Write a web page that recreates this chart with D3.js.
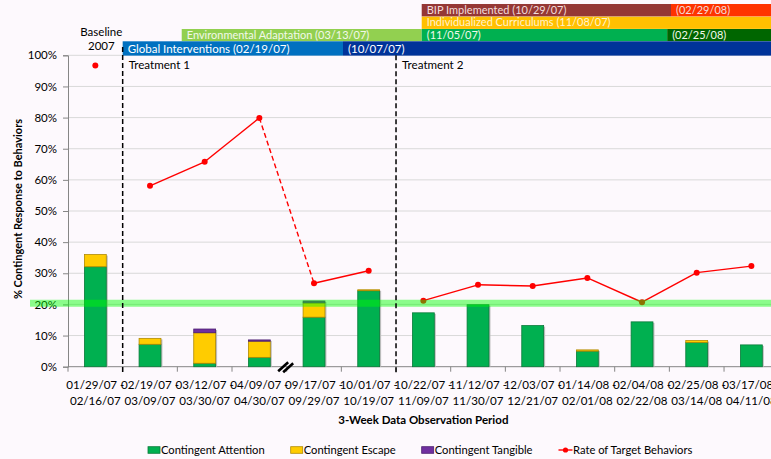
<!DOCTYPE html>
<html lang="en">
<head>
<meta charset="UTF-8">
<title>Contingent Response to Behaviors</title>
<script src="https://d3js.org/d3.v7.min.js"></script>
<style>
  body { margin: 0; background: #fdf9fd; }
  svg { display: block; font-family: Lato, "Liberation Sans", Arial, sans-serif; }
</style>
</head>
<body>
<div id="chart"></div>
<script>
// 3-week observation periods
const periodStart = ["01/29/07", "02/19/07", "03/12/07", "04/09/07", "09/17/07", "10/01/07", "10/22/07",
                     "11/12/07", "12/03/07", "01/14/08", "02/04/08", "02/25/08", "03/17/08"];
const periodEnd   = ["02/16/07", "03/09/07", "03/30/07", "04/30/07", "09/29/07", "10/19/07", "11/09/07",
                     "11/30/07", "12/21/07", "02/01/08", "02/22/08", "03/14/08", "04/11/08"];

// % contingent response, stacked
const attention = [32.1, 7.2, 1.1, 3.0, 15.9, 24.4, 17.3, 19.9, 13.2, 5.0, 14.4, 7.8, 7.0];
const escape    = [3.9, 1.9, 9.8, 5.2, 4.6, 0.3, 0, 0, 0, 0.4, 0, 0.6, 0];
const tangible  = [0, 0, 1.2, 0.4, 0.6, 0, 0, 0, 0, 0, 0, 0, 0];

// rate of target behaviors
const rate = [96.7, 58.1, 65.8, 79.9, 26.8, 30.8, 21.2, 26.3, 25.9, 28.5, 20.7, 30.2, 32.3];
// how each point joins the one before it
const rateLink = ["none", "none", "solid", "solid", "dashed", "solid", "none", "solid", "solid", "solid", "solid", "solid", "solid"];

const yTicks = [0, 10, 20, 30, 40, 50, 60, 70, 80, 90, 100];
const criterion = 20.4;

// phase lines drawn after these period indexes
const phaseLabels = ["Treatment 1", "Treatment 2"];
const phaseAfter = [0, 5];

// intervention banners, start given in period units
const bannerLabels = [
  ["BIP Implemented (10/29/07)", "(02/29/08)"],
  ["Individualized Curriculums (11/08/07)"],
  ["Environmental Adaptation (03/13/07)", "(11/05/07)", "(02/25/08)"],
  ["Global Interventions (02/19/07)", "(10/07/07)"]
];
const bannerStarts = [
  [6.47, 11.03],
  [6.47],
  [2.08, 6.47, 10.96],
  [1.0, 5.03]
];

const seriesNames = ["Contingent Attention", "Contingent Escape", "Contingent Tangible", "Rate of Target Behaviors"];

// ---- styles / layout ----
const bannerFill = [["#953735", "#ff3300"], ["#ffc000"], ["#92d050", "#00b050", "#006600"], ["#0070c0", "#003399"]];
const bannerText = ["#f2dcdb", "#fff2cc", "#f2f8ea", "#ffffff"];
const bannerTop = [4, 16.7, 29, 41.3];
const bannerH = [12.5, 12.2, 12.2, 14.3];
const barFill = ["#00b050", "#ffcc00", "#7030a0"];
const barStroke = ["#0a7a3a", "#b08a00", "#4b1f70"];

const W = 771, H = 459;
const plotLeft = 68, plotTop = 55.3, plotBottom = 366.7, step = 54.67;
const plotRight = plotLeft + step * periodStart.length;

const svg = d3.select("#chart").append("svg")
  .attr("width", W).attr("height", H);

svg.append("rect").attr("width", W).attr("height", H).attr("fill", "#fdf9fd");

const x = d3.scaleBand()
  .domain(d3.range(periodStart.length))
  .range([plotLeft, plotRight])
  .paddingInner(0.6)
  .paddingOuter(0.3);

const xIdx = d3.scaleLinear().domain([0, periodStart.length]).range([plotLeft, plotRight]);

const y = d3.scaleLinear().domain([0, 100]).range([plotBottom, plotTop]);

// gridlines
svg.append("g").selectAll("line")
  .data(yTicks.filter(d => d > 0))
  .enter().append("line")
  .attr("x1", plotLeft).attr("x2", W)
  .attr("y1", d => y(d)).attr("y2", d => y(d))
  .attr("stroke", "#d9d9d9").attr("stroke-width", 1);

// y axis
const yAxis = svg.append("g")
  .attr("transform", "translate(" + plotLeft + ",0)")
  .call(d3.axisLeft(y).tickValues(yTicks).tickSize(5).tickPadding(6).tickFormat(d => d + "%"));
yAxis.select(".domain").attr("stroke", "#868686");
yAxis.selectAll(".tick line").attr("stroke", "#868686");
yAxis.selectAll("text").attr("font-size", 11.5).attr("fill", "#000")
  .attr("font-family", "Lato, 'Liberation Sans', Arial, sans-serif");

// x axis baseline and boundary ticks
svg.append("line")
  .attr("x1", plotLeft).attr("x2", W)
  .attr("y1", plotBottom).attr("y2", plotBottom)
  .attr("stroke", "#868686");
svg.append("g").selectAll("line")
  .data(d3.range(periodStart.length + 1))
  .enter().append("line")
  .attr("x1", d => xIdx(d)).attr("x2", d => xIdx(d))
  .attr("y1", plotBottom).attr("y2", plotBottom + 5)
  .attr("stroke", "#868686");

// x tick labels (two lines)
const xl = svg.append("g").selectAll("text")
  .data(d3.range(periodStart.length))
  .enter().append("text")
  .attr("text-anchor", "middle")
  .attr("font-size", 11.6)
  .attr("fill", "#000");
xl.append("tspan")
  .attr("x", d => x(d) + x.bandwidth() / 2).attr("y", 389)
  .text(d => periodStart[d] + " -");
xl.append("tspan")
  .attr("x", d => x(d) + x.bandwidth() / 2).attr("y", 405)
  .text(d => periodEnd[d]);

// stacked bars
const table = periodStart.map((p, i) => ({ i: i, attention: attention[i], escape: escape[i], tangible: tangible[i] }));
const stack = d3.stack().keys(["attention", "escape", "tangible"])(table);

// shadow
svg.append("g").selectAll("rect")
  .data(table)
  .enter().append("rect")
  .attr("x", d => x(d.i) + 1.5)
  .attr("y", d => y(d.attention + d.escape + d.tangible) + 1)
  .attr("width", x.bandwidth())
  .attr("height", d => plotBottom - y(d.attention + d.escape + d.tangible) - 1)
  .attr("fill", "#bdbdbd");

svg.append("g").selectAll("g")
  .data(stack)
  .enter().append("g")
  .attr("fill", (d, k) => barFill[k])
  .attr("stroke", (d, k) => barStroke[k])
  .attr("stroke-width", 0.8)
  .selectAll("rect")
  .data(d => d.filter(s => s[1] - s[0] > 0))
  .enter().append("rect")
  .attr("x", d => x(d.data.i))
  .attr("y", d => y(d[1]))
  .attr("width", x.bandwidth())
  .attr("height", d => y(d[0]) - y(d[1]));

// rate line
const cx = i => x(i) + x.bandwidth() / 2;
const links = d3.range(1, rate.length).filter(i => rateLink[i] !== "none");
svg.append("g").selectAll("line")
  .data(links)
  .enter().append("line")
  .attr("x1", i => cx(i - 1)).attr("y1", i => y(rate[i - 1]))
  .attr("x2", i => cx(i)).attr("y2", i => y(rate[i]))
  .attr("stroke", "#ff0000").attr("stroke-width", 1.4)
  .attr("stroke-dasharray", i => rateLink[i] === "dashed" ? "5,3" : null);
svg.append("g").selectAll("circle")
  .data(rate)
  .enter().append("circle")
  .attr("cx", (d, i) => cx(i)).attr("cy", d => y(d))
  .attr("r", 3).attr("fill", "#ff0000");

// criterion band
svg.append("line")
  .attr("x1", 30).attr("x2", W)
  .attr("y1", y(criterion)).attr("y2", y(criterion))
  .attr("stroke", "rgba(0,255,0,0.45)").attr("stroke-width", 7);

// axis break
const bx = xIdx(4), by = plotBottom;
[-2.5, 2.5].forEach(o => {
  svg.append("line")
    .attr("x1", bx - 6 + o).attr("y1", by + 5 + o * 0.2)
    .attr("x2", bx + 4 + o).attr("y2", by - 4 + o * 0.2)
    .attr("stroke", "#000").attr("stroke-width", 2.6);
});

// baseline label
svg.append("text").attr("x", cx(0) + 6).attr("y", 35.5)
  .attr("text-anchor", "middle").attr("font-size", 11.5).text("Baseline");
svg.append("text").attr("x", cx(0) + 6).attr("y", 49.5)
  .attr("text-anchor", "middle").attr("font-size", 11.5).text("2007");

// banners
bannerLabels.forEach((row, r) => {
  row.forEach((lab, s) => {
    const x0 = xIdx(bannerStarts[r][s]);
    const x1 = s + 1 < row.length ? xIdx(bannerStarts[r][s + 1]) : W;
    svg.append("rect")
      .attr("x", x0).attr("y", bannerTop[r])
      .attr("width", x1 - x0).attr("height", bannerH[r])
      .attr("fill", bannerFill[r][s]);
    svg.append("text")
      .attr("x", x0 + 5).attr("y", bannerTop[r] + bannerH[r] - 2.5)
      .attr("font-size", r === 3 ? 11.5 : 11)
      .attr("fill", bannerText[r])
      .text(lab);
  });
});

// phase lines
phaseAfter.forEach((a, k) => {
  const px = xIdx(a + 1);
  svg.append("line")
    .attr("x1", px).attr("x2", px)
    .attr("y1", k === 0 ? 47 : plotTop).attr("y2", plotBottom + 6)
    .attr("stroke", "#000").attr("stroke-width", 1.5)
    .attr("stroke-dasharray", "5,3");
  svg.append("text")
    .attr("x", px + 6).attr("y", 69)
    .attr("font-size", 11.6).attr("fill", "#000")
    .text(phaseLabels[k]);
});

// axis titles
svg.append("text")
  .attr("transform", "translate(22," + ((plotTop + plotBottom) / 2 - 2) + ") rotate(-90)")
  .attr("text-anchor", "middle")
  .attr("font-size", 11).attr("font-weight", "bold")
  .text("% Contingent Response to Behaviors");
svg.append("text")
  .attr("x", (plotLeft + plotRight) / 2).attr("y", 423.5)
  .attr("text-anchor", "middle")
  .attr("font-size", 11.5).attr("font-weight", "bold")
  .text("3-Week Data Observation Period");

// legend
const legend = svg.append("g");
let lx = 148;
seriesNames.forEach((name, k) => {
  const g = legend.append("g");
  if (k < 3) {
    g.append("rect").attr("x", lx).attr("y", 446.7)
      .attr("width", 12).attr("height", 6.6)
      .attr("fill", barFill[k]).attr("stroke", barStroke[k]).attr("stroke-width", 0.8);
    lx += 13;
  } else {
    g.append("line").attr("x1", lx).attr("x2", lx + 14)
      .attr("y1", 450).attr("y2", 450)
      .attr("stroke", "#ff0000").attr("stroke-width", 1.4);
    g.append("circle").attr("cx", lx + 7).attr("cy", 450).attr("r", 2.6).attr("fill", "#ff0000");
    lx += 14.5;
  }
  const t = g.append("text").attr("x", lx).attr("y", 453.5)
    .attr("font-size", 11.2).text(name);
  lx += t.node().getComputedTextLength() + 26;
});
</script>
</body>
</html>
